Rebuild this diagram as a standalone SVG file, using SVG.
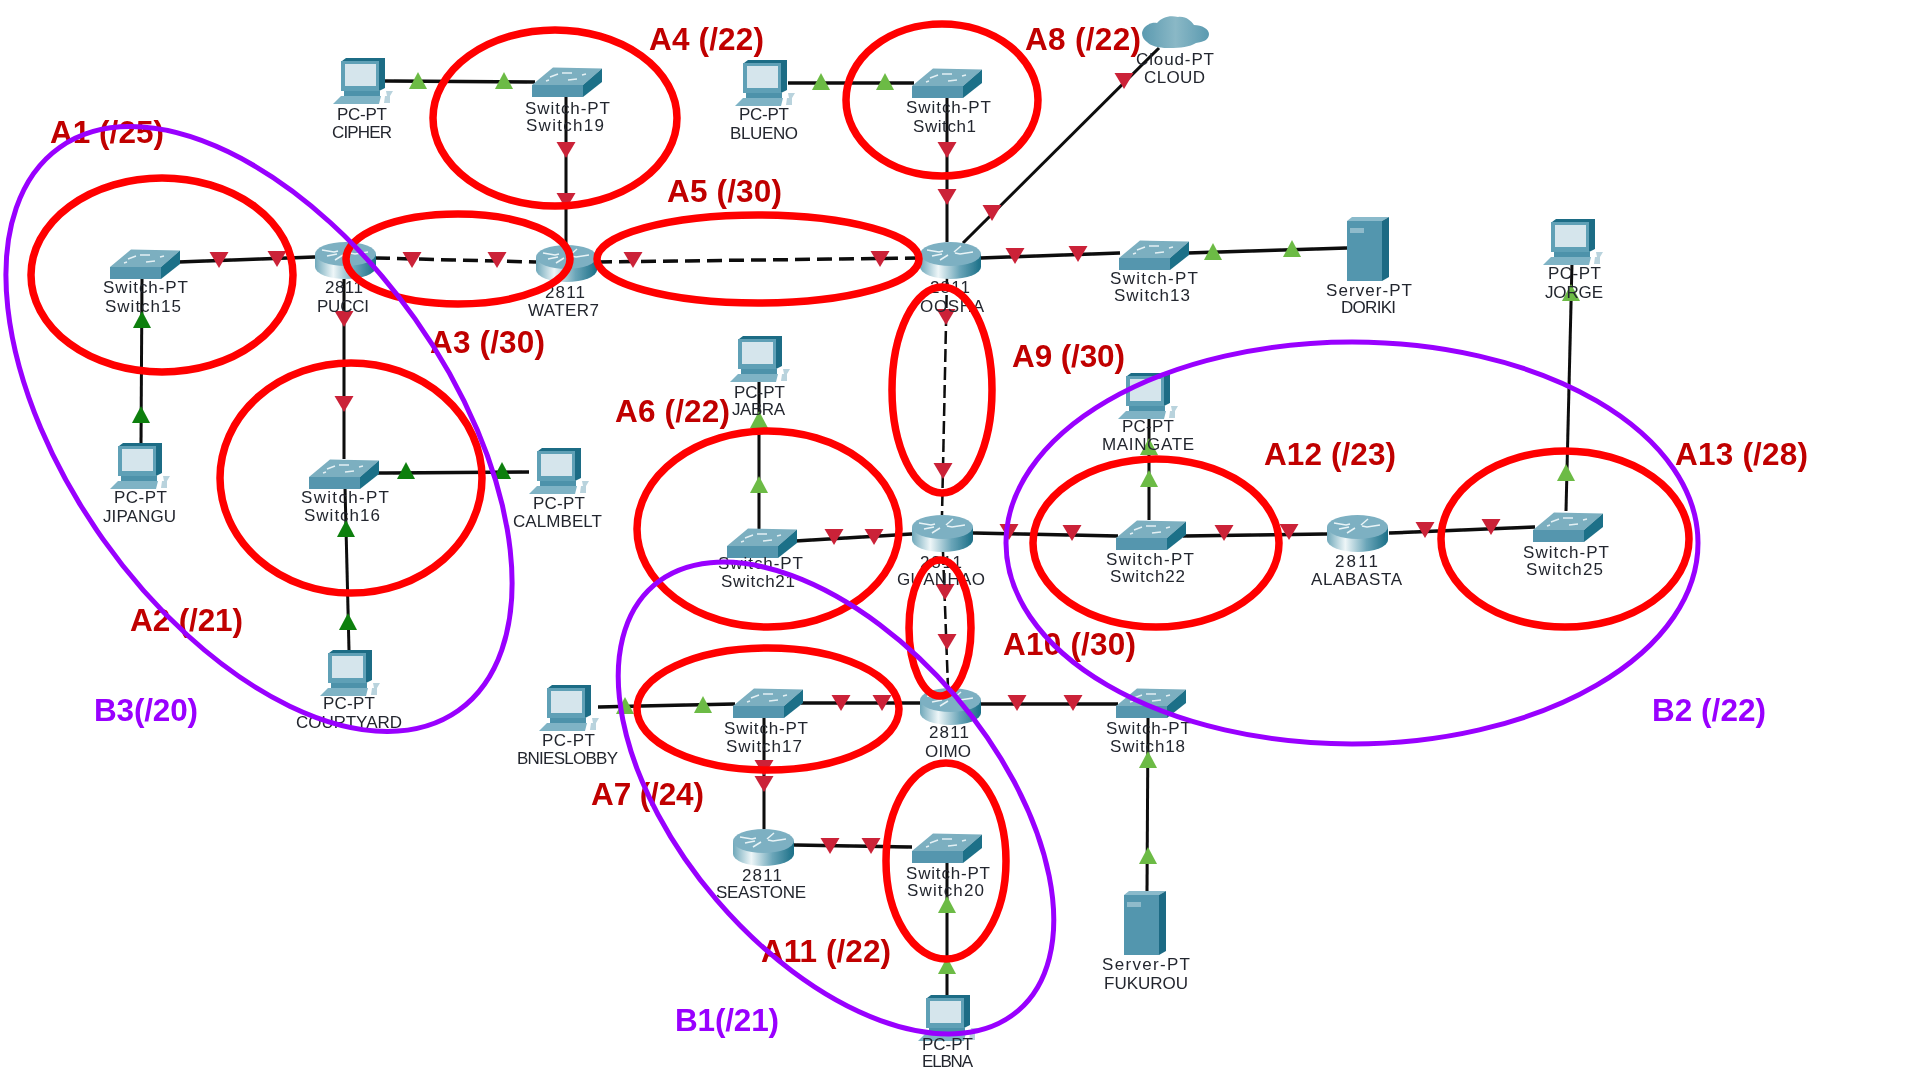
<svg xmlns="http://www.w3.org/2000/svg" width="1920" height="1080" viewBox="0 0 1920 1080">
<style>
.l{font:17px "Liberation Sans",Arial,sans-serif;fill:#23262e}
.c{stroke:#0a0a0a;stroke-width:3.5;fill:none}
.t{stroke:#0a0a0a;stroke-width:3;fill:none}
.d{stroke-dasharray:15 7}
.d2{stroke-dasharray:13 5;stroke-width:2.5}
.r{fill:none;stroke:#ff0000;stroke-width:7.5}
.p{fill:none;stroke:#9900ff;stroke-width:5}
.a{font:700 31.5px "Liberation Sans",Arial,sans-serif;fill:#c00000}
.b{font:700 31.5px "Liberation Sans",Arial,sans-serif;fill:#9900ff}
</style>
<defs>
<filter id="soft" x="-5%" y="-5%" width="110%" height="110%"><feGaussianBlur stdDeviation="0.55"/></filter>
<linearGradient id="rg" x1="0" x2="1" y1="0" y2="0"><stop offset="0" stop-color="#6fa8ba"/><stop offset=".3" stop-color="#eef6f8"/><stop offset=".65" stop-color="#6aa5b8"/><stop offset="1" stop-color="#1b6f87"/></linearGradient>
<linearGradient id="cg" x1="0" x2="1" y1="0" y2="0"><stop offset="0" stop-color="#5b9ab0"/><stop offset=".5" stop-color="#8ab8c6"/><stop offset="1" stop-color="#5b9ab0"/></linearGradient>
<polygon id="dn" points="-9.5,-8 9.5,-8 0,8" fill="#cb2238"/>
<polygon id="up" points="-9,8 9,8 0,-9" fill="#6cbb45"/>
<polygon id="ug" points="-9,8 9,8 0,-9" fill="#0b7f0b"/>
<g id="sw">
<polygon points="0,18 21,0.5 70,1.5 51,18" fill="#7bafc0"/>
<polygon points="0,18 51,18 51,30 0,30" fill="#5596ae"/>
<polygon points="51,18 70,1.5 70,15 51,30" fill="#1f6f88"/>
<path d="M18,10l8,-3M30,6l10,0M36,13l9,-1M14,14l3,-1M50,8l4,-1" stroke="#e4f0f4" stroke-width="1.4" fill="none"/>
</g>
<g id="rt">
<path d="M0,12V25A30.500 12 0 0 0 61,25V12Z" fill="url(#rg)"/>
<ellipse cx="30.500" cy="12" rx="30.500" ry="12" fill="#7db0c2"/>
<path d="M7,8l12,2l4,-1M53,10l-13,2l-5,-1M20,18l8,-5M41,4l-7,6M12,14l10,-2" stroke="#e8f3f6" stroke-width="1.5" fill="none"/>
</g>
<g id="pc">
<polygon points="9,3 13,0 52,0 52,30 46,33 46,3" fill="#1a6c85"/>
<rect x="8" y="3" width="38" height="30" fill="#5fa0b6"/>
<rect x="12" y="6" width="31" height="22" fill="#d5e5ec"/>
<rect x="11" y="33" width="36" height="5" fill="#4e92aa"/>
<polygon points="0,46 8,38 48,38 46,46" fill="#7fb3c5"/>
<path d="M53,33h7l-3,5h-3zM52,38h5v7h-6z" fill="#b9d3dd"/>
</g>
<g id="sv">
<polygon points="0,4 5,0 42,0 35,4" fill="#8abacb"/>
<rect x="0" y="4" width="35" height="60" fill="#5296ae"/>
<polygon points="35,4 42,0 42,60 35,64" fill="#1c6b84"/>
<rect x="3" y="11" width="14" height="5" fill="#8fbbcb"/>
</g>
</defs>

<g id="network" filter="url(#soft)">
<g id="connectors">
<path class="c" d="M384,81L535,82"/>
<path class="c" d="M788,83L914,83"/>
<path class="t" d="M566,97V245"/>
<path class="c" d="M178,262L315,257"/>
<path class="c d" d="M375,258L536,262"/>
<path class="c d" d="M597,262L920,258"/>
<path class="t" d="M947,98V242"/>
<path class="t" d="M963,243L1159,48"/>
<path class="c" d="M980,258L1120,253"/>
<path class="c" d="M1187,253L1347,248"/>
<path class="t d2" d="M947,277L942,515"/>
<path class="t" d="M344,279V459"/>
<path class="c" d="M378,473L529,472"/>
<path class="t" d="M142,278L141,443"/>
<path class="t" d="M345,487L349,650"/>
<path class="t" d="M759,380V530"/>
<path class="c" d="M795,541L912,534"/>
<path class="c" d="M973,533L1118,536"/>
<path class="c" d="M1183,536L1327,534"/>
<path class="c" d="M1389,533L1535,527"/>
<path class="t" d="M1149,417V520"/>
<path class="t" d="M1566,511L1572,263"/>
<path class="t d2" d="M943,552L948,688"/>
<path class="c" d="M981,704H1118"/>
<path class="c" d="M598,707L735,704"/>
<path class="c" d="M801,703H920"/>
<path class="t" d="M764,718V829"/>
<path class="c" d="M794,845L912,847"/>
<path class="t" d="M947,863V995"/>
<path class="t" d="M1148,718L1147,891"/>
<g id="link-lights">
<use href="#up" x="418" y="81"/><use href="#up" x="504" y="81"/>
<use href="#dn" x="566" y="150"/><use href="#dn" x="566" y="201"/>
<use href="#dn" x="219" y="260"/><use href="#dn" x="277" y="259"/>
<use href="#dn" x="412" y="260"/><use href="#dn" x="497" y="260"/>
<use href="#dn" x="633" y="260"/><use href="#dn" x="880" y="259"/>
<use href="#up" x="821" y="82"/><use href="#up" x="885" y="82"/>
<use href="#dn" x="947" y="150"/><use href="#dn" x="947" y="197"/>
<use href="#dn" x="992" y="213"/><use href="#dn" x="1124" y="81"/>
<use href="#dn" x="1015" y="256"/><use href="#dn" x="1078" y="254"/>
<use href="#up" x="1213" y="252"/><use href="#up" x="1292" y="249"/>
<use href="#dn" x="946" y="317"/><use href="#dn" x="943" y="471"/>
<use href="#dn" x="344" y="319"/><use href="#dn" x="344" y="404"/>
<use href="#ug" x="406" y="471"/><use href="#ug" x="502" y="471"/>
<use href="#ug" x="142" y="320"/><use href="#ug" x="141" y="415"/>
<use href="#ug" x="346" y="529"/><use href="#ug" x="348" y="622"/>
<use href="#up" x="759" y="420"/><use href="#up" x="759" y="485"/>
<use href="#dn" x="834" y="537"/><use href="#dn" x="874" y="537"/>
<use href="#dn" x="1009" y="532"/><use href="#dn" x="1072" y="533"/>
<use href="#dn" x="1224" y="533"/><use href="#dn" x="1289" y="532"/>
<use href="#dn" x="1425" y="530"/><use href="#dn" x="1491" y="527"/>
<use href="#up" x="1149" y="447"/><use href="#up" x="1149" y="479"/>
<use href="#up" x="1566" y="473"/><use href="#up" x="1571" y="293"/>
<use href="#dn" x="945" y="592"/><use href="#dn" x="947" y="642"/>
<use href="#dn" x="1017" y="703"/><use href="#dn" x="1073" y="703"/>
<use href="#up" x="625" y="706"/><use href="#up" x="703" y="705"/>
<use href="#dn" x="841" y="703"/><use href="#dn" x="882" y="703"/>
<use href="#dn" x="764" y="768"/><use href="#dn" x="764" y="784"/>
<use href="#dn" x="830" y="846"/><use href="#dn" x="871" y="846"/>
<use href="#up" x="947" y="905"/><use href="#up" x="947" y="966"/>
<use href="#up" x="1148" y="760"/><use href="#up" x="1148" y="856"/>
</g>
</g>

<g id="cipher"><use href="#pc" x="333" y="58"/><text class="l" x="337" y="120" textLength="50">PC-PT</text><text class="l" x="332" y="138" textLength="60">CIPHER</text></g>
<g id="switch19"><use href="#sw" x="532" y="67"/><text class="l" x="525" y="114" textLength="85">Switch-PT</text><text class="l" x="526" y="131" textLength="78">Switch19</text></g>
<g id="blueno"><use href="#pc" x="735" y="60"/><text class="l" x="739" y="120" textLength="50">PC-PT</text><text class="l" x="730" y="139" textLength="68">BLUENO</text></g>
<g id="switch1"><use href="#sw" x="912" y="68"/><text class="l" x="906" y="113" textLength="85">Switch-PT</text><text class="l" x="913" y="132" textLength="63">Switch1</text></g>
<g id="cloud">
<path d="M1142,33C1143,26 1150,22 1157,23C1162,17 1170,15 1178,17C1186,16 1191,21 1194,25C1202,25 1209,29 1209,34C1209,40 1203,42 1196,43C1190,47 1180,48 1170,48C1162,48 1152,47 1147,42C1144,40 1142,37 1142,33Z" fill="url(#cg)"/>
<text class="l" x="1136" y="65" textLength="78">Cloud-PT</text><text class="l" x="1144" y="83" textLength="61">CLOUD</text></g>
<g id="switch15"><use href="#sw" x="110" y="249"/><text class="l" x="103" y="293" textLength="85">Switch-PT</text><text class="l" x="105" y="312" textLength="76">Switch15</text></g>
<g id="pucci"><use href="#rt" x="315" y="242"/><text class="l" x="325" y="293" textLength="38">2811</text><text class="l" x="317" y="312" textLength="52">PUCCI</text></g>
<g id="water7"><use href="#rt" x="536" y="245"/><text class="l" x="545" y="298" textLength="40">2811</text><text class="l" x="528" y="316" textLength="71">WATER7</text></g>
<g id="oosha"><use href="#rt" x="920" y="242"/><text class="l" x="930" y="293" textLength="40">2811</text><text class="l" x="920" y="312" textLength="64">OOSHA</text></g>
<g id="switch13"><use href="#sw" x="1119" y="240"/><text class="l" x="1110" y="284" textLength="88">Switch-PT</text><text class="l" x="1114" y="301" textLength="76">Switch13</text></g>
<g id="doriki"><use href="#sv" x="1347" y="217"/><text class="l" x="1326" y="296" textLength="86">Server-PT</text><text class="l" x="1341" y="313" textLength="55">DORIKI</text></g>
<g id="jorge"><use href="#pc" x="1543" y="219"/><text class="l" x="1548" y="279" textLength="53">PC-PT</text><text class="l" x="1545" y="298" textLength="58">JORGE</text></g>
<g id="maingate"><use href="#pc" x="1118" y="373"/><text class="l" x="1122" y="432" textLength="52">PC-PT</text><text class="l" x="1102" y="450" textLength="92">MAINGATE</text></g>
<g id="jipangu"><use href="#pc" x="110" y="443"/><text class="l" x="114" y="503" textLength="53">PC-PT</text><text class="l" x="103" y="522" textLength="73">JIPANGU</text></g>
<g id="calmbelt"><use href="#pc" x="529" y="448"/><text class="l" x="533" y="509" textLength="52">PC-PT</text><text class="l" x="513" y="527" textLength="89">CALMBELT</text></g>
<g id="jabra"><use href="#pc" x="730" y="336"/><text class="l" x="734" y="398" textLength="51">PC-PT</text><text class="l" x="732" y="415" textLength="53">JABRA</text></g>
<g id="switch16"><use href="#sw" x="309" y="459"/><text class="l" x="301" y="503" textLength="88">Switch-PT</text><text class="l" x="304" y="521" textLength="76">Switch16</text></g>
<g id="switch21"><use href="#sw" x="727" y="528"/><text class="l" x="718" y="569" textLength="85">Switch-PT</text><text class="l" x="721" y="587" textLength="74">Switch21</text></g>
<g id="guanhao"><use href="#rt" x="912" y="515"/><text class="l" x="920" y="568" textLength="42">2811</text><text class="l" x="897" y="585" textLength="88">GUANHAO</text></g>
<g id="switch22"><use href="#sw" x="1116" y="520"/><text class="l" x="1106" y="565" textLength="88">Switch-PT</text><text class="l" x="1110" y="582" textLength="75">Switch22</text></g>
<g id="alabasta"><use href="#rt" x="1327" y="515"/><text class="l" x="1335" y="567" textLength="43">2811</text><text class="l" x="1311" y="585" textLength="91">ALABASTA</text></g>
<g id="switch25"><use href="#sw" x="1533" y="512"/><text class="l" x="1523" y="558" textLength="86">Switch-PT</text><text class="l" x="1526" y="575" textLength="77">Switch25</text></g>
<g id="courtyard"><use href="#pc" x="320" y="650"/><text class="l" x="323" y="709" textLength="52">PC-PT</text><text class="l" x="296" y="728" textLength="106">COURTYARD</text></g>
<g id="bnieslobby"><use href="#pc" x="539" y="685"/><text class="l" x="542" y="746" textLength="53">PC-PT</text><text class="l" x="517" y="764" textLength="101">BNIESLOBBY</text></g>
<g id="switch17"><use href="#sw" x="733" y="688"/><text class="l" x="724" y="734" textLength="84">Switch-PT</text><text class="l" x="726" y="752" textLength="76">Switch17</text></g>
<g id="oimo"><use href="#rt" x="920" y="688"/><text class="l" x="929" y="738" textLength="40">2811</text><text class="l" x="925" y="757" textLength="46">OIMO</text></g>
<g id="switch18"><use href="#sw" x="1116" y="688"/><text class="l" x="1106" y="734" textLength="85">Switch-PT</text><text class="l" x="1110" y="752" textLength="75">Switch18</text></g>
<g id="seastone"><use href="#rt" x="733" y="829"/><text class="l" x="742" y="881" textLength="40">2811</text><text class="l" x="716" y="898" textLength="90">SEASTONE</text></g>
<g id="switch20"><use href="#sw" x="912" y="833"/><text class="l" x="906" y="879" textLength="84">Switch-PT</text><text class="l" x="907" y="896" textLength="77">Switch20</text></g>
<g id="fukurou"><use href="#sv" x="1124" y="891"/><text class="l" x="1102" y="970" textLength="88">Server-PT</text><text class="l" x="1104" y="989" textLength="84">FUKUROU</text></g>
<g id="elbna"><use href="#pc" x="918" y="995"/><text class="l" x="922" y="1050" textLength="51">PC-PT</text><text class="l" x="922" y="1067" textLength="51">ELBNA</text></g>
</g>

<g id="red-rings">
<ellipse class="r" cx="162" cy="275" rx="131" ry="97"/>
<ellipse class="r" cx="351" cy="478" rx="131" ry="115"/>
<ellipse class="r" cx="458" cy="259" rx="112" ry="45"/>
<ellipse class="r" cx="555" cy="118" rx="122" ry="88"/>
<ellipse class="r" cx="758" cy="259" rx="161" ry="44"/>
<ellipse class="r" cx="768" cy="529" rx="131" ry="98"/>
<ellipse class="r" cx="768" cy="709" rx="131" ry="61"/>
<ellipse class="r" cx="942" cy="100" rx="96" ry="76"/>
<ellipse class="r" cx="942" cy="390" rx="50" ry="103"/>
<ellipse class="r" cx="940" cy="628" rx="31" ry="68"/>
<ellipse class="r" cx="946" cy="861" rx="60" ry="98"/>
<ellipse class="r" cx="1156" cy="543" rx="123" ry="84"/>
<ellipse class="r" cx="1565" cy="539" rx="124" ry="88"/>
</g>
<g id="score-labels">
<text class="a" x="50" y="143" textLength="114">A1 (/25)</text>
<text class="a" x="130" y="631" textLength="113">A2 (/21)</text>
<text class="a" x="430" y="353" textLength="115">A3 (/30)</text>
<text class="a" x="649" y="50" textLength="115">A4 (/22)</text>
<text class="a" x="667" y="202" textLength="115">A5 (/30)</text>
<text class="a" x="615" y="422" textLength="115">A6 (/22)</text>
<text class="a" x="591" y="805" textLength="113">A7 (/24)</text>
<text class="a" x="1025" y="50" textLength="116">A8 (/22)</text>
<text class="a" x="1012" y="367" textLength="113">A9 (/30)</text>
<text class="a" x="1003" y="655" textLength="133">A10 (/30)</text>
<text class="a" x="761" y="962" textLength="130">A11 (/22)</text>
<text class="a" x="1264" y="465" textLength="132">A12 (/23)</text>
<text class="a" x="1675" y="465" textLength="133">A13 (/28)</text>
<text class="b" x="675" y="1031" textLength="104">B1(/21)</text>
<text class="b" x="1652" y="721" textLength="114">B2 (/22)</text>
<text class="b" x="94" y="721" textLength="104">B3(/20)</text>
</g>
<g id="purple-rings">
<ellipse class="p" cx="259" cy="429" rx="345" ry="191" transform="rotate(54.7 259 429)"/>
<ellipse class="p" cx="836" cy="798" rx="280" ry="157" transform="rotate(49.4 836 798)"/>
<ellipse class="p" cx="1352" cy="543" rx="346" ry="201"/>
</g>
</svg>
